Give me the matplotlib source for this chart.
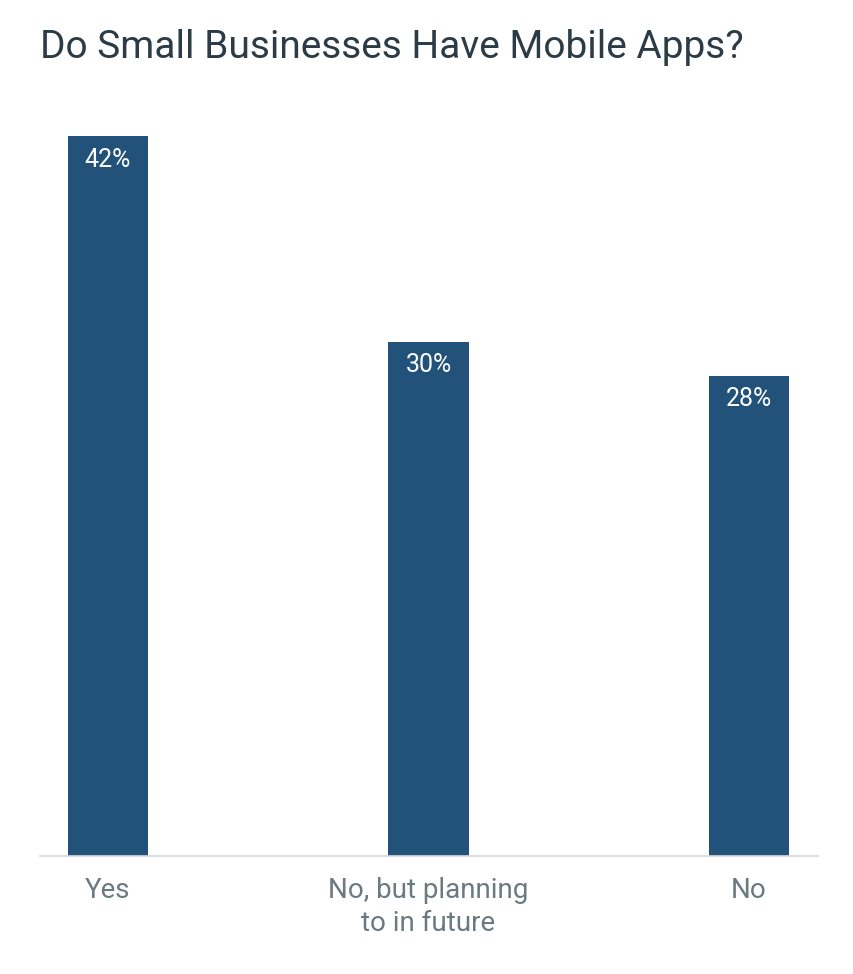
import matplotlib
matplotlib.use("Agg")
import matplotlib.pyplot as plt

categories = ["Yes", "No, but planning\nto in future", "No"]
values = [42, 30, 28]
value_labels = ["42%", "30%", "28%"]
title = "Do Small Businesses Have Mobile Apps?"

plt.rcParams['font.family'] = ['Roboto', 'DejaVu Sans']

W, H = 854, 974
fig = plt.figure(figsize=(W/100, H/100), dpi=100)
ax = fig.add_axes([40/W, (H-856)/H, (818-40)/W, (856-85)/H])

bar_color = "#22527a"
x = list(range(len(categories)))
ax.bar(x, values, width=0.25, color=bar_color, zorder=2)
ax.set_xlim(-0.212, 2.215)
ax.set_ylim(0, 45)

for xi, v, lab in zip(x, values, value_labels):
    ax.annotate(lab, (xi, v), xytext=(0, -8), textcoords="offset points",
                ha="center", va="top", color="white", fontsize=18)

ax.set_xticks(x)
ax.set_xticklabels(categories, fontsize=20, color="#6b7a80", linespacing=1.3)
ax.tick_params(axis='x', length=0, pad=15)
ax.set_yticks([])
for s in ["top", "right", "left"]:
    ax.spines[s].set_visible(False)
ax.spines["bottom"].set_color("#d9d9d9")
ax.spines["bottom"].set_linewidth(1.2)

fig.text(40/W, 1 - 58/H, title, fontsize=28, color="#2b3c46",
         ha="left", va="baseline")

fig.savefig("out.png", dpi=100, facecolor="white")
